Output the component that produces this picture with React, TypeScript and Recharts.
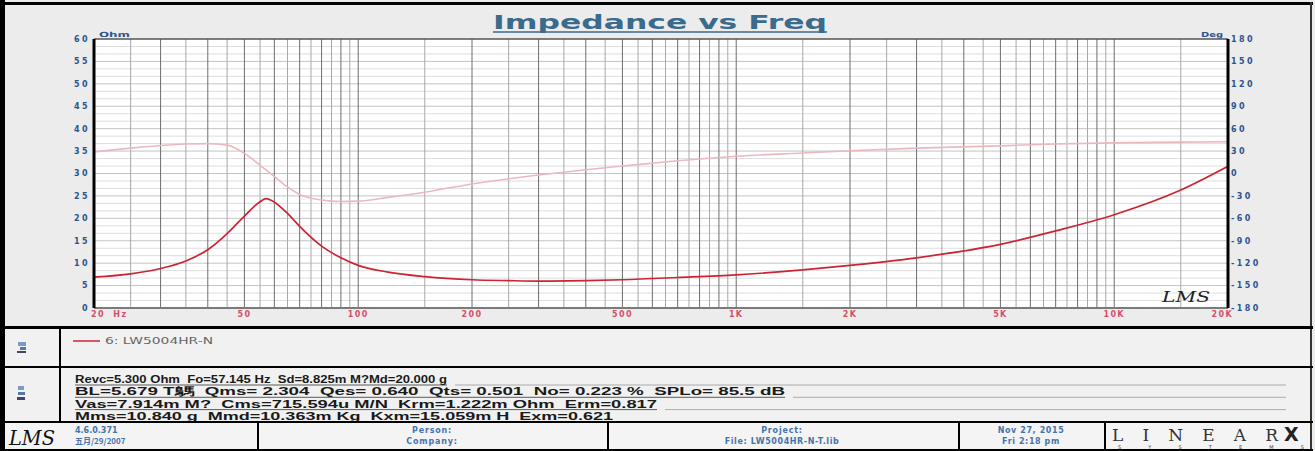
import React from "react";
import { ComposedChart, Line, XAxis, YAxis, CartesianGrid, ReferenceLine } from "recharts";

const FREQS = [20, 25, 30, 35, 40, 45, 50, 55, 57, 60, 65, 70, 80, 90, 100, 120, 150, 200, 250, 300, 400, 500, 700, 1000, 1500, 2000, 3000, 5000, 7000, 10000, 15000, 20000];
const IMPEDANCE = [6.9, 7.6, 8.8, 10.5, 13.0, 16.6, 20.5, 23.7, 24.4, 23.6, 21.1, 18.2, 13.8, 11.2, 9.5, 8.0, 7.0, 6.3, 6.1, 6.0, 6.1, 6.3, 6.8, 7.4, 8.5, 9.5, 11.2, 14.2, 17.2, 20.8, 26.3, 31.6];
const PHASE = [29, 34, 37.5, 39.5, 40, 38, 27, 11, 5, -4, -18, -28, -35.5, -37.5, -37, -32, -25, -14, -7, -2, 5, 10, 17, 23, 27.5, 30.5, 34, 37, 39.5, 41, 42, 42.5];

const X_TICKS = [20, 50, 100, 200, 500, 1000, 2000, 5000, 10000, 20000];
const X_TICK_LABELS = ["20  Hz", "50", "100", "200", "500", "1K", "2K", "5K", "10K", "20K"];
const OHM_TICKS = [0, 5, 10, 15, 20, 25, 30, 35, 40, 45, 50, 55, 60];
const DEG_TICKS = [-180, -150, -120, -90, -60, -30, 0, 30, 60, 90, 120, 150, 180];
const DEG_GRID = [-170, -160, -150, -140, -130, -120, -110, -100, -90, -80, -70, -60, -50, -40, -30, -20, -10, 0, 10, 20, 30, 40, 50, 60, 70, 80, 90, 100, 110, 120, 130, 140, 150, 160, 170];
const GRID_MANTISSA = [1, 1.5, 2, 2.5, 3, 3.5, 4, 4.5, 5, 5.5, 6, 6.5, 7, 7.5, 8, 8.5, 9, 9.5];
const GRID_DECADES = [10, 100, 1000, 10000];

const NOTES = [
  "Revc=5.300 Ohm  Fo=57.145 Hz  Sd=8.825m M?Md=20.000 g",
  "BL=5.679 T鷌  Qms= 2.304  Qes= 0.640  Qts= 0.501  No= 0.223 %  SPLo= 85.5 dB",
  "Vas=7.914m M?  Cms=715.594u M/N  Krm=1.222m Ohm  Erm=0.817",
  "Mms=10.840 g  Mmd=10.363m Kg  Kxm=15.059m H  Exm=0.621",
];
const NOTE_WIDTHS = [372, 710, 582, 538];

const data = FREQS.map((f, i) => ({ f, z: IMPEDANCE[i], p: PHASE[i] }));
const xGrid = GRID_DECADES.flatMap((d) => GRID_MANTISSA.map((m) => m * d)).filter((v) => v > 20 && v < 20000);

const Z_COLOR = "#cc2433";
const P_COLOR = "#ecb8c0";
const BLUE = "#2a5590";
const FOOT_BLUE = "#4474ad";
const FONT = "'DejaVu Sans', sans-serif";

function FreqTick(props: any) {
  const { x, y, payload } = props;
  const i = X_TICKS.indexOf(payload.value);
  const last = i === X_TICKS.length - 1;
  const anchor = i === 0 ? "start" : last ? "end" : "middle";
  const dx = i === 0 ? -3 : last ? 5 : 0;
  return (
    <text x={x + dx} y={y} dy={7} textAnchor={anchor} fill="#d4506a" fontSize={8} fontWeight="bold" letterSpacing={1.4} fontFamily={FONT} style={{ whiteSpace: "pre" }}>
      {X_TICK_LABELS[i]}
    </text>
  );
}

const yTick = { fill: BLUE, fontSize: 8, fontWeight: "bold", fontFamily: FONT, letterSpacing: 2.4 } as const;

const hr = (top: number, h = 2) => (
  <div style={{ position: "absolute", left: 0, top, width: 1313, height: h, background: "#000" }} />
);
const vr = (left: number, top: number, height: number, w = 2) => (
  <div style={{ position: "absolute", left, top, width: w, height, background: "#000" }} />
);

export default function App() {
  return (
    <div style={{ position: "absolute", left: 0, top: 0, width: 1315, height: 451, background: "#ececec", overflow: "hidden", fontFamily: FONT }}>
      <ComposedChart width={1315} height={330} data={data} margin={{ top: 39, right: 0, left: 0, bottom: 0 }}>
        <CartesianGrid yAxisId="z" fill="#ffffff" horizontal={false} vertical={false} />
        {DEG_GRID.map((d) => (
          <ReferenceLine key={"h" + d} yAxisId="p" y={d} stroke={d % 30 === 0 ? "#c4c4c4" : "#dedede"} strokeWidth={1} />
        ))}
        {xGrid.map((v) => (
          <ReferenceLine key={"v" + v} yAxisId="z" x={v} stroke={Number.isInteger(v / Math.pow(10, Math.floor(Math.log10(v)))) ? "#6e6e6e" : "#a8a8a8"} strokeWidth={1} />
        ))}
        <ReferenceLine yAxisId="z" y={60} stroke="#555" strokeWidth={1.5} />
        <XAxis
          dataKey="f"
          type="number"
          scale="log"
          domain={[20, 20000]}
          ticks={X_TICKS}
          allowDataOverflow
          height={22}
          tickSize={0}
          tickMargin={2}
          tickLine={false}
          axisLine={{ stroke: "#7a7a7a", strokeWidth: 2 }}
          tick={<FreqTick />}
          interval={0}
        />
        <YAxis
          yAxisId="z"
          width={94}
          domain={[0, 60]}
          ticks={OHM_TICKS}
          interval={0}
          tickLine={false}
          tickSize={0}
          tickMargin={4}
          axisLine={{ stroke: "#000", strokeWidth: 3 }}
          tick={yTick}
        />
        <YAxis
          yAxisId="p"
          orientation="right"
          width={87}
          domain={[-180, 180]}
          ticks={DEG_TICKS}
          interval={0}
          tickLine={false}
          tickSize={0}
          tickMargin={3}
          axisLine={{ stroke: "#000", strokeWidth: 3 }}
          tick={yTick}
        />
        <Line yAxisId="p" type="monotone" dataKey="p" stroke={P_COLOR} strokeWidth={1.6} dot={false} isAnimationActive={false} />
        <Line yAxisId="z" type="monotone" dataKey="z" stroke={Z_COLOR} strokeWidth={1.7} dot={false} isAnimationActive={false} />
      </ComposedChart>

      {/* title, units and signature over the chart */}
      <svg width={1315} height={330} style={{ position: "absolute", left: 0, top: 0, pointerEvents: "none" }}>
        <text x={660} y={29} textAnchor="middle" fill="#3a6b8c" fontSize={19} fontWeight="bold" fontFamily={FONT} textLength={334} lengthAdjust="spacingAndGlyphs">
          Impedance vs Freq
        </text>
        <line x1={493} x2={827} y1={32} y2={32} stroke="#3a6b8c" strokeWidth={1.5} />
        <text x={99} y={37} fill={BLUE} fontSize={7} fontWeight="bold" fontFamily={FONT} textLength={31} lengthAdjust="spacingAndGlyphs">Ohm</text>
        <text x={1201} y={37} fill={BLUE} fontSize={7} fontWeight="bold" fontFamily={FONT} textLength={22} lengthAdjust="spacingAndGlyphs">Deg</text>
        <text x={1162} y={302} fill="#222" fontSize={15} fontStyle="italic" fontFamily="'DejaVu Serif', serif" textLength={48} lengthAdjust="spacingAndGlyphs">LMS</text>
      </svg>

      {/* frame */}
      <div style={{ position: "absolute", left: 0, top: 0, width: 5, height: 451, background: "#000" }} />
      {hr(2, 3)}
      <div style={{ position: "absolute", left: 1310, top: 2, width: 2, height: 449, background: "#333" }} />
      {hr(326, 3)}

      {/* legend panel */}
      <div style={{ position: "absolute", left: 5, top: 329, width: 1305, height: 37, background: "#f1f1f1" }} />
      {vr(59, 329, 37)}
      <svg width={1315} height={125} style={{ position: "absolute", left: 0, top: 326 }}>
        <rect x={18} y={16} width={8} height={4} fill="#7c9cc4" />
        <rect x={20} y={21} width={6} height={3} fill="#557aa8" />
        <rect x={17} y={25} width={9} height={2} fill="#446" />
        <line x1={73} x2={100} y1={15} y2={15} stroke={Z_COLOR} strokeWidth={1.5} />
        <text x={105} y={18} fill="#666" fontSize={8} fontFamily={FONT} textLength={108} lengthAdjust="spacingAndGlyphs">6: LW5004HR-N</text>
      </svg>
      {hr(366, 2)}

      {/* notes panel */}
      <div style={{ position: "absolute", left: 5, top: 368, width: 1305, height: 53, background: "#f1f1f1" }} />
      {vr(59, 368, 53)}
      <svg width={1315} height={60} style={{ position: "absolute", left: 0, top: 366 }}>
        <rect x={18} y={20} width={6} height={4} fill="#7c9cc4" />
        <rect x={18} y={26} width={7} height={3} fill="#557aa8" />
        <rect x={17} y={31} width={8} height={3} fill="#446" />
        {NOTES.map((t, i) => {
          const base = 17 + i * 12.3;
          return (
            <g key={t}>
              <text x={75} y={base} fill="#1a1a1a" fontSize={10.5} fontWeight="bold" fontFamily="'Liberation Sans', Arial, sans-serif" textLength={NOTE_WIDTHS[i]} lengthAdjust="spacingAndGlyphs" style={{ whiteSpace: "pre" }}>
                {t}
              </text>
              <line x1={75} x2={75 + NOTE_WIDTHS[i]} y1={base + 2} y2={base + 2} stroke="#333" strokeWidth={0.8} />
              <line x1={75 + NOTE_WIDTHS[i] + 8} x2={1286} y1={base + 2} y2={base + 2} stroke="#9a9a9a" strokeWidth={0.8} />
            </g>
          );
        })}
      </svg>
      {hr(421, 2)}

      {/* footer */}
      <div style={{ position: "absolute", left: 5, top: 423, width: 1305, height: 26, background: "#f4f4f4" }} />
      {vr(257, 423, 27)}
      {vr(607, 423, 27)}
      {vr(958, 423, 27)}
      {vr(1104, 423, 27)}
      <svg width={1315} height={30} style={{ position: "absolute", left: 0, top: 421 }}>
        <text x={9} y={24} fill="#111" fontSize={21} fontStyle="italic" fontFamily="'DejaVu Serif', serif" textLength={46} lengthAdjust="spacingAndGlyphs">LMS</text>
        <text x={75} y={12} fill={FOOT_BLUE} fontSize={8} fontWeight="bold" fontFamily={FONT}>4.6.0.371</text>
        <text x={75} y={23} fill={FOOT_BLUE} fontSize={8} fontWeight="bold" fontFamily="'Noto Sans CJK SC', sans-serif">五月/29/2007</text>
        <text x={432} y={12} textAnchor="middle" fill={FOOT_BLUE} fontSize={8} fontWeight="bold" fontFamily={FONT} letterSpacing={0.8}>Person:</text>
        <text x={432} y={23} textAnchor="middle" fill={FOOT_BLUE} fontSize={8} fontWeight="bold" fontFamily={FONT} letterSpacing={0.8}>Company:</text>
        <text x={782} y={12} textAnchor="middle" fill={FOOT_BLUE} fontSize={8} fontWeight="bold" fontFamily={FONT} letterSpacing={0.8}>Project:</text>
        <text x={782} y={23} textAnchor="middle" fill={FOOT_BLUE} fontSize={8} fontWeight="bold" fontFamily={FONT} letterSpacing={0.6}>File: LW5004HR-N-T.lib</text>
        <text x={1031} y={12} textAnchor="middle" fill={FOOT_BLUE} fontSize={8} fontWeight="bold" fontFamily={FONT} letterSpacing={0.6}>Nov 27, 2015</text>
        <text x={1031} y={23} textAnchor="middle" fill={FOOT_BLUE} fontSize={8} fontWeight="bold" fontFamily={FONT} letterSpacing={0.6}>Fri  2:18 pm</text>
        <text x={1112} y={20} fill="#333" fontSize={17} fontFamily="'DejaVu Serif', serif" textLength={166} lengthAdjust="spacing">LINEAR</text>
        <text x={1284} y={20} fill="#222" fontSize={19} fontWeight="bold" fontFamily={FONT}>X</text>
        <text x={1118} y={28} fill="#444" fontSize={5} fontFamily={FONT} textLength={186} lengthAdjust="spacing">SYSTEMS</text>
      </svg>
      {hr(449, 2)}
    </div>
  );
}
